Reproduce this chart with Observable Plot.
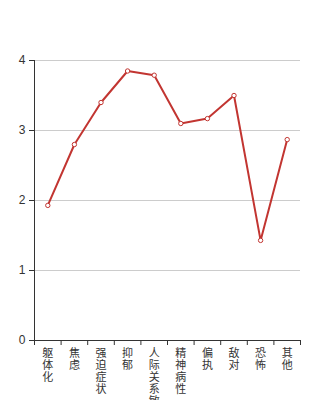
<!DOCTYPE html>
<html>
<head>
<meta charset="utf-8">
<script src="https://cdn.jsdelivr.net/npm/d3@7"></script>
<script src="https://cdn.jsdelivr.net/npm/@observablehq/plot@0.6"></script>
<style>
html, body { margin: 0; padding: 0; background: white; overflow: hidden; }
</style>
</head>
<body>
<div id="chart"></div>
<script>
const categories = ["躯体化", "焦虑", "强迫症状", "抑郁", "人际关系敏感", "精神病性", "偏执", "敌对", "恐怖", "其他"];
const values = [1.93, 2.80, 3.40, 3.85, 3.79, 3.10, 3.17, 3.50, 1.43, 2.87];
const yTicks = [0, 1, 2, 3, 4];
const gridTicks = [1, 2, 3, 4];

const data = categories.map((c, i) => ({pos: i + 0.5, name: c, value: values[i]}));
const boundaries = d3.range(categories.length + 1);

const chart = Plot.plot({
  width: 334,
  height: 400,
  marginLeft: 34,
  marginRight: 34,
  marginTop: 60,
  marginBottom: 60,
  style: {fontFamily: "'Liberation Sans', 'Noto Sans CJK SC', sans-serif", fontSize: "12px", color: "#333", background: "white"},
  x: {type: "linear", domain: [0, categories.length]},
  y: {domain: [0, 4]},
  marks: [
    Plot.gridY(gridTicks, {stroke: "#ccc", strokeOpacity: 1}),
    Plot.axisY({ticks: yTicks, tickSize: 5, tickPadding: 4, fontSize: 12, stroke: "#333", fill: "#333", label: null, tickFormat: d3.format("d")}),
    Plot.ruleX([0], {stroke: "#333"}),
    Plot.ruleY([0], {stroke: "#333"}),
    Plot.axisX({ticks: boundaries, tickSize: 5, tickFormat: () => "", stroke: "#333", label: null}),
    Plot.axisX({ticks: data.map(d => d.pos), tickSize: 0, tickPadding: 8, fontSize: 11, fill: "#333", lineHeight: 1.09,
      tickFormat: p => [...categories[Math.floor(p)]].join("\n"), label: null}),
    Plot.line(data, {x: "pos", y: "value", stroke: "#c23531", strokeWidth: 2}),
    Plot.dot(data, {x: "pos", y: "value", r: 2.2, fill: "white", stroke: "#c23531", strokeWidth: 1})
  ]
});
document.getElementById("chart").appendChild(chart);
</script>
</body>
</html>
